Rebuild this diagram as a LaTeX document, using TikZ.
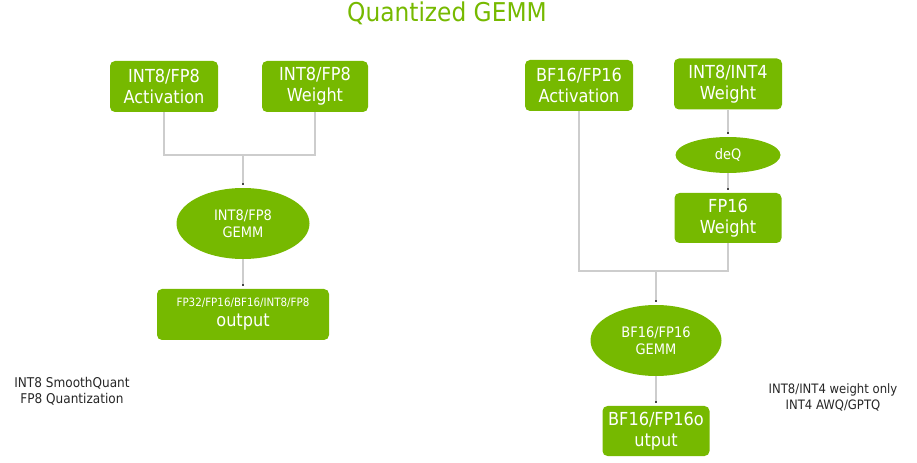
\documentclass[tikz,border=0pt]{standalone}
\usepackage{fontspec}
\setmainfont{DejaVu Sans Condensed}
\usetikzlibrary{arrows.meta,shapes.geometric}
\definecolor{nvgreen}{RGB}{118,185,0}
\definecolor{lgray}{RGB}{205,205,205}
\definecolor{tipgray}{RGB}{70,70,70}
\tikzset{
  gbox/.style={fill=nvgreen, rounded corners=5bp, text=white, inner sep=0pt, align=center, font=\fontsize{18}{21}\selectfont},
  gell/.style={ellipse, fill=nvgreen, text=white, inner sep=0pt, align=center, font=\fontsize{14.5}{17}\selectfont},
  conn/.style={draw=lgray, line width=1.2bp},
  arr/.style={conn, -{Square[length=2.2bp,width=2.2bp,color=tipgray]}, shorten >=3bp},
  note/.style={text=black!85, align=center, inner sep=0pt}
}
\begin{document}
\begin{tikzpicture}[x=1bp,y=-1bp]
\useasboundingbox (0,0) rectangle (917,463);
\node[text=nvgreen, font=\fontsize{26}{30}\selectfont, inner sep=0pt, anchor=base] (title) at (447,21.5) {Quantized GEMM};
% left
\node[gbox, minimum width=108bp, minimum height=51bp] (a1) at (164,86.5) {INT8/FP8\\Activation};
\node[gbox, minimum width=106bp, minimum height=51bp] (a2) at (315,86.5) {INT8/FP8\\Weight};
\node[gell, minimum width=133bp, minimum height=71bp] (g1) at (243,223.5) {INT8/FP8\\GEMM};
\node[gbox, minimum width=172bp, minimum height=51bp, font=\fontsize{18}{20}\selectfont] (o1) at (243,314.5) {{\fontsize{11.5}{13}\selectfont FP32/FP16/BF16/INT8/FP8}\\output};
\coordinate (j1) at (243,155);
\draw[conn] (a1.south) |- (j1);
\draw[conn] (a2.south) |- (j1);
\draw[arr] (j1) -- (g1.north);
\draw[arr] (g1.south) -- (o1.north);
\node[note, font=\fontsize{13.5}{16}\selectfont] (n1) at (72,391) {INT8 SmoothQuant\\FP8 Quantization};
% right
\node[gbox, minimum width=108bp, minimum height=51bp] (b1) at (579,85.5) {BF16/FP16\\Activation};
\node[gbox, minimum width=108bp, minimum height=51bp] (b2) at (728,84) {INT8/INT4\\Weight};
\node[gell, minimum width=105bp, minimum height=36bp] (dq) at (728,155) {deQ};
\node[gbox, minimum width=107bp, minimum height=50bp] (w16) at (728,218) {FP16\\Weight};
\node[gell, minimum width=131bp, minimum height=71bp] (g2) at (656,340.5) {BF16/FP16\\GEMM};
\node[gbox, minimum width=107bp, minimum height=50bp] (o2) at (656,431) {BF16/FP16o\\utput};
\coordinate (j2) at (656,271);
\draw[arr] (b2.south) -- (dq.north);
\draw[arr] (dq.south) -- (w16.north);
\draw[conn] (b1.south) |- (j2);
\draw[conn] (w16.south) |- (j2);
\draw[arr] (j2) -- (g2.north);
\draw[arr] (g2.south) -- (o2.north);
\node[note, font=\fontsize{13}{16}\selectfont] (n2) at (833,397) {INT8/INT4 weight only\\INT4 AWQ/GPTQ};
\end{tikzpicture}
\end{document}
